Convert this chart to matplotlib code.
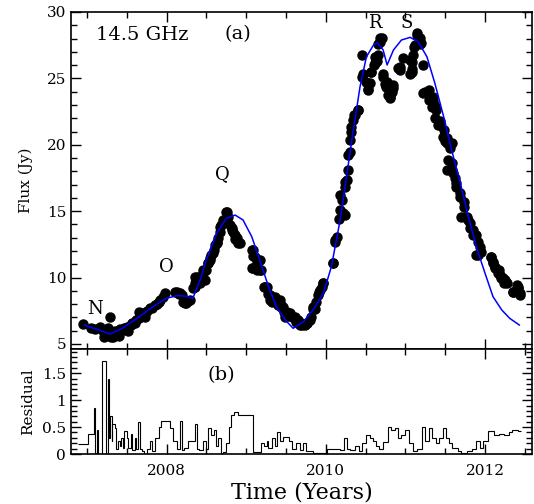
import numpy as np
import matplotlib
matplotlib.use("Agg")
import matplotlib.pyplot as plt
from matplotlib.ticker import MultipleLocator, StrMethodFormatter

plt.rcParams['font.family'] = 'DejaVu Serif'

# observed flux densities at 14.5 GHz
obs_year = [2006.95, 2007.05, 2007.10, 2007.16, 2007.20, 2007.22, 2007.25, 2007.27, 2007.29, 2007.30,
            2007.33, 2007.35, 2007.39, 2007.40, 2007.42, 2007.45, 2007.47, 2007.50, 2007.52, 2007.55,
            2007.56, 2007.60, 2007.62, 2007.65, 2007.66, 2007.68, 2007.70, 2007.73, 2007.75, 2007.79,
            2007.82, 2007.85, 2007.88, 2007.90, 2007.92, 2007.95, 2007.98,
            2008.10, 2008.13, 2008.15, 2008.17, 2008.19, 2008.21, 2008.23, 2008.25, 2008.27, 2008.30,
            2008.33, 2008.36, 2008.38, 2008.40, 2008.42, 2008.44, 2008.46, 2008.48, 2008.50, 2008.52,
            2008.54, 2008.56, 2008.59, 2008.61, 2008.63, 2008.65, 2008.67, 2008.68, 2008.71, 2008.75,
            2008.77, 2008.80, 2008.82, 2008.84, 2008.86, 2008.88, 2008.90, 2008.92,
            2009.09, 2009.11, 2009.09, 2009.13, 2009.17, 2009.17, 2009.19, 2009.23, 2009.26, 2009.30,
            2009.30, 2009.32, 2009.36, 2009.39, 2009.42, 2009.44, 2009.46, 2009.49, 2009.51, 2009.53,
            2009.55, 2009.58, 2009.61, 2009.63, 2009.65, 2009.67, 2009.70, 2009.72, 2009.74, 2009.77,
            2009.80, 2009.82, 2009.84, 2009.86, 2009.88, 2009.90, 2009.92, 2009.95, 2009.96,
            2010.09, 2010.11, 2010.14, 2010.16, 2010.18, 2010.24, 2010.18, 2010.24, 2010.24, 2010.28,
            2010.28, 2010.30, 2010.32, 2010.32, 2010.37, 2010.41, 2010.45, 2010.46, 2010.53, 2010.55,
            2010.57, 2010.60, 2010.62, 2010.64, 2010.66, 2010.68, 2010.70, 2010.72, 2010.74, 2010.76,
            2010.78, 2010.81, 2010.83, 2010.85, 2010.91, 2010.93, 2010.97,
            2011.06, 2011.08, 2011.08, 2011.10, 2011.12, 2011.14, 2011.18, 2011.20, 2011.22, 2011.22,
            2011.25, 2011.29, 2011.29, 2011.33, 2011.35, 2011.37, 2011.39, 2011.41, 2011.43, 2011.47,
            2011.50, 2011.52, 2011.56, 2011.54, 2011.58, 2011.52, 2011.60, 2011.62, 2011.64, 2011.68,
            2011.73, 2011.70, 2011.77, 2011.79, 2011.81, 2011.85, 2011.89, 2011.91, 2011.94, 2011.91,
            2011.95, 2012.08, 2012.10, 2012.12, 2012.17, 2012.19, 2012.22, 2012.25, 2012.27, 2012.35,
            2012.40, 2012.42, 2012.44,
            # second pass over the dense part
            2008.36, 2008.36, 2008.46, 2008.52, 2008.54, 2008.585, 2008.63, 2008.67, 2008.71, 2008.754,
            2008.82, 2008.86, 2008.90, 2009.07, 2009.09, 2009.07, 2009.13, 2009.235, 2009.28, 2009.36,
            2009.40, 2009.44, 2009.48, 2009.55, 2009.61, 2009.65, 2009.69, 2009.76, 2009.84, 2009.93,
            2009.97, 2010.093, 2010.115, 2010.22, 2010.20, 2010.26, 2010.30, 2010.34, 2010.36, 2010.40,
            2010.47, 2010.51, 2010.53, 2010.57, 2010.62, 2010.66, 2010.68, 2010.72, 2010.77, 2010.80,
            2010.85, 2010.93, 2011.06, 2011.08, 2011.11, 2011.14, 2011.18, 2011.27, 2011.35, 2011.37,
            2011.43, 2011.48, 2011.52, 2011.58, 2011.58, 2011.64, 2011.68, 2011.73, 2011.75, 2011.81,
            2011.85, 2011.89, 2012.08, 2012.10, 2012.12, 2012.16, 2012.20, 2012.24, 2012.35, 2012.42,
            2012.44]
obs_flux = [6.51, 6.20, 6.10, 6.30, 5.95, 5.55, 5.68, 6.20, 7.06, 5.50,
            5.55, 5.95, 5.81, 5.60, 6.10, 6.05, 6.20, 6.30, 6.00, 6.45,
            6.56, 6.60, 6.81, 6.95, 7.43, 7.20, 7.30, 7.06, 7.50, 7.69,
            7.70, 7.94, 8.00, 8.15, 8.31, 8.50, 8.82,
            8.94, 8.94, 8.80, 8.82, 8.69, 8.19, 8.07, 8.07, 8.20, 8.30,
            9.19, 9.30, 10.07, 9.60, 9.57, 9.90, 10.32, 9.82, 10.57, 11.08,
            11.45, 11.70, 12.08, 12.45, 12.70, 13.00, 13.46, 13.96, 14.34, 14.96,
            14.59, 13.96, 13.58, 13.40, 13.20, 12.96, 12.70, 12.58,
            12.08, 11.57, 10.70, 11.08, 11.33, 10.57, 10.57, 9.32, 9.32, 8.69,
            8.31, 8.19, 8.44, 8.10, 8.31, 7.90, 7.81, 7.06, 7.43, 7.20,
            7.18, 7.00, 6.93, 6.68, 6.55, 6.43, 6.40, 6.50, 6.43, 6.55,
            6.81, 7.06, 7.81, 7.60, 8.19, 8.69, 8.90, 9.32, 9.57,
            11.08, 12.70, 13.08, 14.40, 15.09, 14.71, 16.22, 16.85, 17.22, 18.10,
            19.23, 20.36, 20.98, 21.37, 22.24, 22.62, 25.13, 26.76, 24.13, 24.63,
            25.51, 26.00, 26.63, 26.30, 26.76, 27.76, 28.02, 25.13, 24.60, 24.38,
            23.75, 23.50, 24.00, 24.25, 25.76, 25.63, 26.51,
            25.30, 25.51, 26.26, 26.76, 27.52, 28.40, 28.02, 27.64, 26.00, 23.88,
            24.00, 24.13, 23.37, 22.87, 23.60, 22.00, 22.62, 21.49, 21.80, 20.61,
            20.30, 20.11, 19.74, 18.86, 18.61, 18.10, 17.85, 17.50, 17.10, 16.35,
            15.72, 14.59, 14.59, 14.30, 14.09, 13.58, 13.20, 12.70, 12.33, 11.70,
            11.95, 11.57, 11.20, 10.82, 10.57, 10.20, 10.00, 9.82, 9.57, 8.94,
            9.44, 9.19, 8.69,
            10.07, 9.57, 10.57, 11.10, 11.30, 11.83, 12.60, 13.83, 14.10, 14.96,
            13.71, 12.90, 12.58, 12.08, 11.60, 10.70, 10.60, 9.32, 8.80, 8.57,
            7.90, 7.80, 7.40, 7.30, 7.06, 6.80, 6.55, 6.55, 7.60, 9.07,
            9.57, 11.08, 12.83, 14.84, 15.85, 17.35, 19.48, 21.85, 22.24, 22.62,
            25.30, 24.70, 24.20, 25.50, 26.14, 27.60, 28.02, 25.30, 24.70, 23.60,
            24.50, 25.88, 26.39, 25.70, 27.40, 28.27, 27.60, 24.00, 23.30, 22.90,
            21.50, 21.10, 20.50, 20.10, 18.10, 16.85, 16.10, 15.35, 14.59, 13.71,
            13.20, 11.70, 11.57, 11.08, 10.70, 10.32, 9.94, 9.57, 8.94, 9.32,
            8.82]

# model light curve
model_year = [2006.97, 2007.10, 2007.29, 2007.45, 2007.66, 2007.85, 2008.00, 2008.13, 2008.22, 2008.33,
              2008.42, 2008.50, 2008.63, 2008.75, 2008.86, 2008.96, 2009.07, 2009.17, 2009.28, 2009.38,
              2009.49, 2009.59, 2009.72, 2009.84, 2009.97, 2010.07, 2010.18, 2010.26, 2010.34, 2010.43,
              2010.51, 2010.60, 2010.65, 2010.72, 2010.77, 2010.85, 2010.95, 2011.06, 2011.16, 2011.27,
              2011.37, 2011.48, 2011.58, 2011.69, 2011.79, 2011.89, 2012.00, 2012.10, 2012.21, 2012.31,
              2012.43]
model_flux = [6.43, 6.15, 5.75, 6.20, 7.06, 7.90, 8.44, 8.64, 8.62, 8.44,
              9.80, 11.33, 13.33, 14.46, 14.71, 14.34, 13.08, 11.33, 9.32, 7.81,
              6.81, 6.18, 6.68, 7.56, 8.82, 10.82, 14.34, 17.60, 20.87, 24.38,
              26.63, 27.52, 27.69, 27.14, 26.01, 27.14, 27.89, 28.09, 27.76, 26.63,
              24.63, 22.12, 19.61, 17.10, 14.59, 12.33, 10.32, 8.56, 7.56, 6.93,
              6.43]

# residual (step) edges and values
res_edges = [2006.89, 2007.01, 2007.09, 2007.10, 2007.13, 2007.14, 2007.19, 2007.24, 2007.26, 2007.28,
             2007.29, 2007.31, 2007.32, 2007.35, 2007.37, 2007.39, 2007.41, 2007.43, 2007.45, 2007.47,
             2007.50, 2007.52, 2007.55, 2007.57, 2007.60, 2007.62, 2007.64, 2007.67, 2007.69, 2007.72,
             2007.75, 2007.79, 2007.82, 2007.86, 2007.91, 2007.93, 2008.04, 2008.08, 2008.13, 2008.17,
             2008.20, 2008.22, 2008.27, 2008.36, 2008.38, 2008.41, 2008.46, 2008.50, 2008.52, 2008.56,
             2008.59, 2008.62, 2008.64, 2008.68, 2008.71, 2008.75, 2008.79, 2008.81, 2008.85, 2008.90,
             2009.09, 2009.18, 2009.22, 2009.26, 2009.28, 2009.33, 2009.36, 2009.39, 2009.42, 2009.46,
             2009.54, 2009.58, 2009.63, 2009.67, 2009.71, 2009.75, 2009.84, 2010.01, 2010.18, 2010.23,
             2010.27, 2010.31, 2010.37, 2010.42, 2010.46, 2010.50, 2010.55, 2010.59, 2010.63, 2010.67,
             2010.72, 2010.78, 2010.82, 2010.87, 2010.91, 2010.95, 2010.99, 2011.04, 2011.10, 2011.14,
             2011.21, 2011.25, 2011.29, 2011.34, 2011.38, 2011.42, 2011.47, 2011.51, 2011.55, 2011.59,
             2011.66, 2011.70, 2011.77, 2011.83, 2011.89, 2011.94, 2011.98, 2012.04, 2012.11, 2012.17,
             2012.24, 2012.30, 2012.34, 2012.41, 2012.45]
res_values = [0.18, 0.38, 0.86, 0.02, 0.44, 0.00, 1.72, 0.00, 1.40, 0.30,
              0.70, 0.25, 0.55, 0.48, 0.10, 0.25, 0.15, 0.30, 0.12, 0.42,
              0.30, 0.12, 0.38, 0.08, 0.30, 0.10, 0.60, 0.10, 0.05, 0.00,
              0.10, 0.25, 0.05, 0.30, 0.50, 0.62, 0.48, 0.25, 0.10, 0.62,
              0.08, 0.12, 0.25, 0.55, 0.10, 0.08, 0.25, 0.10, 0.48, 0.35,
              0.45, 0.15, 0.30, 0.00, 0.03, 0.20, 0.50, 0.72, 0.78, 0.73,
              0.03, 0.20, 0.15, 0.25, 0.12, 0.30, 0.15, 0.40, 0.25, 0.32,
              0.25, 0.10, 0.20, 0.08, 0.20, 0.05, 0.02, 0.10, 0.08, 0.30,
              0.10, 0.08, 0.15, 0.05, 0.20, 0.35, 0.30, 0.25, 0.15, 0.10,
              0.22, 0.50, 0.45, 0.48, 0.30, 0.35, 0.45, 0.20, 0.05, 0.10,
              0.50, 0.25, 0.48, 0.30, 0.20, 0.30, 0.48, 0.30, 0.20, 0.12,
              0.05, 0.02, 0.05, 0.10, 0.25, 0.12, 0.25, 0.42, 0.35, 0.38,
              0.35, 0.40, 0.45, 0.42]

# component labels
comp_names = ['N', 'O', 'Q', 'R', 'S']
comp_year = [2007.10, 2008.00, 2008.70, 2010.62, 2011.01]
comp_flux = [7.6, 10.8, 17.8, 29.2, 29.2]

fig = plt.figure(figsize=(5.34, 5.04), dpi=100)
ax1 = fig.add_axes([0.1330, 0.3075, 0.8633, 0.6687])
ax2 = fig.add_axes([0.1330, 0.0992, 0.8633, 0.2083], sharex=ax1)

ax1.plot(obs_year, obs_flux, 'o', color='black', markersize=6.5, zorder=2)
ax1.plot(model_year, model_flux, '-', color='#0000ff', lw=1.1, zorder=3)

for name, x, y in zip(comp_names, comp_year, comp_flux):
    ax1.text(x, y, name, ha='center', va='center', fontsize=13)

ax1.text(2007.70, 28.3, '14.5 GHz', ha='center', va='center', fontsize=14)
ax1.text(2008.90, 28.3, '(a)', ha='center', va='center', fontsize=14)

ax1.set_xlim(2006.80, 2012.59)
ax1.set_ylim(4.62, 30)
ax1.set_ylabel('Flux (Jy)', fontsize=11, labelpad=10)
ax1.yaxis.set_major_locator(MultipleLocator(5))
ax1.yaxis.set_minor_locator(MultipleLocator(1))

ax2.stairs(res_values, res_edges, baseline=None, color='black', lw=0.8)
ax2.text(2008.69, 1.46, '(b)', ha='center', va='center', fontsize=14)
ax2.set_ylim(0, 1.95)
ax2.set_ylabel('Residual', fontsize=11, labelpad=5)
ax2.set_xlabel('Time (Years)', fontsize=16, labelpad=3)
ax2.yaxis.set_major_locator(MultipleLocator(0.5))
ax2.yaxis.set_minor_locator(MultipleLocator(0.1))
ax2.yaxis.set_major_formatter(StrMethodFormatter('{x:g}'))

ax2.xaxis.set_major_locator(MultipleLocator(2))
ax2.xaxis.set_minor_locator(MultipleLocator(0.5))

for ax in (ax1, ax2):
    ax.tick_params(which='both', direction='in', top=True, right=True, labelsize=11)
    ax.tick_params(which='major', length=7, width=1)
    ax.tick_params(which='minor', length=4, width=1)
    for sp in ax.spines.values():
        sp.set_linewidth(1.2)
ax1.tick_params(labelbottom=False)
ax2.tick_params(axis='x', which='major', pad=7)

fig.savefig('out.png', dpi=100)
